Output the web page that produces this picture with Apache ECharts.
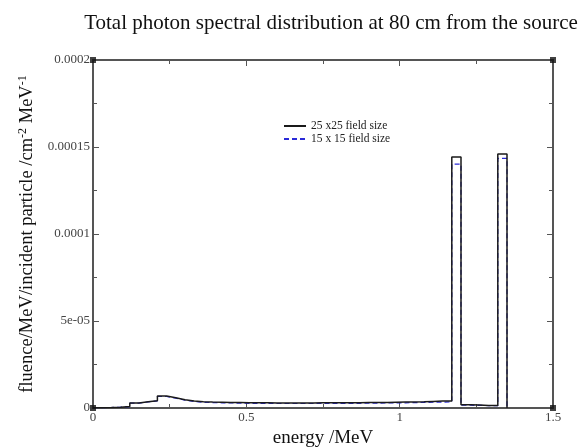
<!DOCTYPE html>
<html>
<head>
<meta charset="utf-8">
<script src="https://cdn.jsdelivr.net/npm/echarts@6/dist/echarts.min.js"></script>
<style>
  html, body { margin: 0; padding: 0; background: #fff; }
  #graph { width: 579px; height: 447px; }
</style>
</head>
<body>
<div id="graph"></div>
<script>
"use strict"

// left bin edges (MeV), 0.03 MeV bins, last entry closes the final bin
const binEdges = [
    0.00, 0.03, 0.06, 0.09, 0.12, 0.15, 0.18, 0.21, 0.24, 0.27,
    0.30, 0.33, 0.36, 0.39, 0.42, 0.45, 0.48, 0.51, 0.54, 0.57,
    0.60, 0.63, 0.66, 0.69, 0.72, 0.75, 0.78, 0.81, 0.84, 0.87,
    0.90, 0.93, 0.96, 0.99, 1.02, 1.05, 1.08, 1.11, 1.14, 1.17,
    1.20, 1.23, 1.26, 1.29, 1.32, 1.35
];
// fluence per bin, units of 1e-6
const field25 = [
    0.2, 0.3, 0.5, 0.8, 2.9, 3.6, 4.2, 6.9, 5.9, 4.8,
    4.0, 3.6, 3.4, 3.3, 3.2, 3.1, 3.0, 3.0, 3.0, 2.9,
    2.9, 2.9, 2.9, 2.9, 3.0, 3.0, 3.0, 3.0, 3.0, 3.1,
    3.1, 3.2, 3.3, 3.4, 3.5, 3.6, 3.8, 4.0, 4.0, 144.3,
    1.8, 1.7, 1.5, 1.4, 146.0
];
const field15 = [
    0.2, 0.3, 0.5, 0.8, 2.8, 3.5, 4.1, 6.6, 5.6, 4.5,
    3.7, 3.3, 3.1, 3.0, 2.9, 2.8, 2.7, 2.7, 2.7, 2.6,
    2.6, 2.6, 2.6, 2.6, 2.7, 2.7, 2.7, 2.7, 2.7, 2.8,
    2.8, 2.9, 2.9, 3.0, 3.1, 3.2, 3.3, 3.4, 3.5, 140.2,
    1.6, 1.5, 1.4, 1.3, 143.5
];
const seriesNames = ["25 x25 field size", "15 x 15 field size"];
const yTickLabels = ["0", "5e-05", "0.0001", "0.00015", "0.0002"];
const xTickLabels = ["0", "0.5", "1", "1.5"];
const cornerPoints = [[0, 0], [1.5, 0], [0, 0.0002], [1.5, 0.0002]];

function toSteps(vals)
{
    const pts = vals.map((v, i) => [binEdges[i], v * 1e-6]);
    pts.push([binEdges[vals.length], 0]);
    return pts;
}

const serif = "Liberation Serif";
const axisLine = { show: true, onZero: false, lineStyle: { color: "#555", width: 2 } };

const xBase = {
    type: "value", min: 0, max: 1.5, interval: 0.5,
    axisLine: axisLine,
    axisTick: { show: true, inside: true, length: 6, lineStyle: { color: "#555" } },
    minorTick: { show: true, splitNumber: 2, length: 4, lineStyle: { color: "#555" } },
    splitLine: { show: false }
};
const yBase = {
    type: "value", min: 0, max: 0.0002, interval: 0.00005,
    axisLine: axisLine,
    axisTick: { show: true, inside: true, length: 6, lineStyle: { color: "#555" } },
    minorTick: { show: true, splitNumber: 2, length: 4, lineStyle: { color: "#555" } },
    splitLine: { show: false }
};

const myChart = echarts.init(document.getElementById("graph"), null, { renderer: "canvas" });

const option = {
    animation: false,
    backgroundColor: "#fff",
    title: {
        text: "Total photon spectral distribution at 80 cm from the source",
        left: 326, top: 8, textAlign: "center",
        textStyle: { fontFamily: serif, fontSize: 21, fontWeight: "normal", color: "#111" }
    },
    legend: {
        left: 278, top: 115, orient: "vertical", itemGap: 1,
        itemWidth: 22, itemHeight: 10,
        data: seriesNames,
        itemStyle: { opacity: 0 },
        textStyle: { fontFamily: serif, fontSize: 11.5, color: "#222" }
    },
    grid: { left: 93, right: 26, top: 60, bottom: 39, outerBoundsMode: "none", containLabel: false },
    xAxis: [
        Object.assign({}, xBase, {
            position: "bottom",
            name: "energy /MeV", nameLocation: "middle", nameGap: 21,
            nameTextStyle: { fontFamily: serif, fontSize: 19, color: "#111" },
            axisLabel: {
                fontFamily: serif, fontSize: 13, color: "#444", margin: 3,
                formatter: v => xTickLabels[Math.round(v / 0.5)]
            }
        }),
        Object.assign({}, xBase, { position: "top", axisLabel: { show: false } })
    ],
    yAxis: [
        Object.assign({}, yBase, {
            position: "left",
            name: "{a|fluence/MeV/incident particle /cm}{s|-2}{a| MeV}{s|-1}",
            nameLocation: "middle", nameGap: 47,
            nameTextStyle: {
                rich: {
                    a: { fontFamily: serif, fontSize: 18.5, color: "#111" },
                    s: { fontFamily: serif, fontSize: 12, color: "#111", verticalAlign: "top", padding: [0, 0, 9, 0] }
                }
            },
            axisLabel: {
                fontFamily: serif, fontSize: 13, color: "#444", margin: 3,
                formatter: v => yTickLabels[Math.round(v / 0.00005)]
            }
        }),
        Object.assign({}, yBase, { position: "right", axisLabel: { show: false } })
    ],
    series: [
        {
            name: seriesNames[0], type: "line", step: "end", symbol: "none",
            data: toSteps(field25),
            lineStyle: { color: "#1a1a1a", width: 1.5 },
            itemStyle: { color: "#1a1a1a" },
            z: 3
        },
        {
            name: seriesNames[1], type: "line", step: "end", symbol: "none",
            data: toSteps(field15),
            lineStyle: { color: "#2a2ad8", width: 1.2, type: [5, 3] },
            itemStyle: { color: "#2a2ad8" },
            z: 2
        },
        {
            name: "corners", type: "scatter", symbol: "rect", symbolSize: 6,
            data: cornerPoints, itemStyle: { color: "#111" }, z: 5, silent: true
        }
    ]
};
myChart.setOption(option);
</script>
</body>
</html>
